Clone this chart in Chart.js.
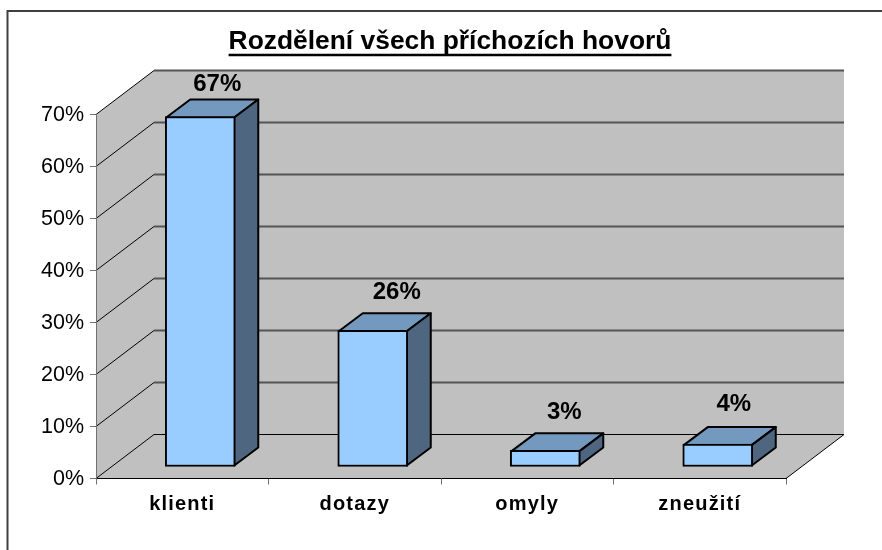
<!DOCTYPE html>
<html><head><meta charset="utf-8">
<script src="https://cdn.jsdelivr.net/npm/chart.js@4"></script>
<style>html,body{margin:0;padding:0;background:#fff}#w{width:882px;height:550px;position:relative}</style>
</head><body><div id="w"><canvas id="c" width="882" height="550"></canvas></div>
<script>
const categories = ['klienti', 'dotazy', 'omyly', 'zneužití'];
const shares = [67.4, 26.3, 3.2, 4.4];
const titleText = 'Rozdělení všech příchozích hovorů';

const FONT = '"Liberation Sans", Arial, sans-serif';
const WALL = { dx: 58, dy: -44 };
const BAR_SHIFT = { dx: 18, dy: -11.5 };
const BAR_DEPTH = { dx: 24, dy: -18 };
const LABEL_NUDGE = [[17, -32.5], [24, -38], [19, -38], [16, -40]];
const TITLE_CENTER = 450;

const threeD = {
  id: 'threeD',
  afterLayout(chart) {
    const t = chart.titleBlock;
    if (t) { const half = (t.right - t.left) / 2; t.left = TITLE_CENTER - half; t.right = TITLE_CENTER + half; }
    const xs = chart.scales.x, ys = chart.scales.y;
    if (!xs._spaced) {
      const origX = xs.drawLabels.bind(xs);
      xs.drawLabels = (area) => {
        const c = chart.ctx; c.letterSpacing = '1.2px'; origX(area); c.letterSpacing = '0px';
      };
      xs._spaced = true;
      const origY = ys.drawLabels.bind(ys);
      ys.drawLabels = (area) => {
        const c = chart.ctx; c.save(); c.translate(0, 1); origY(area); c.restore();
      };
    }
  },
  beforeDraw(chart) {
    const c = chart.ctx, { x, y } = chart.scales;
    const L = x.left, R = x.right, B = y.getPixelForValue(0), T = y.getPixelForValue(70);
    c.save();
    c.fillStyle = '#fff'; c.fillRect(0, 0, chart.width, chart.height);
    c.strokeStyle = '#404040'; c.lineWidth = 2;
    c.beginPath(); c.moveTo(7.5, chart.height); c.lineTo(7.5, 11); c.lineTo(chart.width, 11); c.stroke();
    c.fillStyle = '#C0C0C0';
    c.beginPath();
    c.moveTo(L, T); c.lineTo(L + WALL.dx, T + WALL.dy); c.lineTo(R + WALL.dx, T + WALL.dy);
    c.lineTo(R + WALL.dx, B + WALL.dy); c.lineTo(R, B); c.lineTo(L, B); c.closePath(); c.fill();
    y.ticks.forEach(tk => {
      const py = y.getPixelForValue(tk.value);
      c.strokeStyle = '#000'; c.lineWidth = 1;
      c.beginPath(); c.moveTo(L, py); c.lineTo(L + WALL.dx, py + WALL.dy); c.stroke();
      c.strokeStyle = tk.value === 0 ? '#000' : '#555'; c.lineWidth = tk.value === 0 ? 1 : 1.8;
      c.beginPath(); c.moveTo(L + WALL.dx, py + WALL.dy); c.lineTo(R + WALL.dx, py + WALL.dy); c.stroke();
    });
    c.strokeStyle = '#000'; c.lineWidth = 1;
    c.beginPath(); c.moveTo(R, B); c.lineTo(R + WALL.dx, B + WALL.dy); c.stroke();
    c.restore();
  },
  beforeDatasetsDraw(chart) {
    const c = chart.ctx;
    c.save();
    c.translate(BAR_SHIFT.dx, BAR_SHIFT.dy);
    c.lineWidth = 2; c.strokeStyle = '#000'; c.lineJoin = 'round';
    chart.getDatasetMeta(0).data.forEach(b => {
      const l = b.x - b.width / 2 + 1, r = b.x + b.width / 2 - 1, t = b.y + 1, bt = b.base - 1;
      c.fillStyle = '#7399BF';
      c.beginPath(); c.moveTo(l, t); c.lineTo(l + BAR_DEPTH.dx, t + BAR_DEPTH.dy);
      c.lineTo(r + BAR_DEPTH.dx, t + BAR_DEPTH.dy); c.lineTo(r, t); c.closePath(); c.fill(); c.stroke();
      c.fillStyle = '#4F6680';
      c.beginPath(); c.moveTo(r, t); c.lineTo(r + BAR_DEPTH.dx, t + BAR_DEPTH.dy);
      c.lineTo(r + BAR_DEPTH.dx, bt + BAR_DEPTH.dy); c.lineTo(r, bt); c.closePath(); c.fill(); c.stroke();
    });
  },
  afterDatasetsDraw(chart) {
    const c = chart.ctx;
    c.restore();
    c.save();
    c.font = 'bold 24px ' + FONT; c.fillStyle = '#000';
    c.textAlign = 'center'; c.textBaseline = 'middle';
    chart.getDatasetMeta(0).data.forEach((b, i) => {
      c.fillText(Math.round(shares[i]) + '%', b.x + BAR_SHIFT.dx + LABEL_NUDGE[i][0], b.y + BAR_SHIFT.dy + LABEL_NUDGE[i][1]);
    });
    c.font = 'bold 26.4px ' + FONT;
    const w = c.measureText(titleText).width;
    c.strokeStyle = '#000'; c.lineWidth = 2.5;
    c.beginPath(); c.moveTo(TITLE_CENTER - w / 2, 55); c.lineTo(TITLE_CENTER + w / 2, 55); c.stroke();
    c.restore();
  }
};

new Chart(document.getElementById('c'), {
  type: 'bar',
  data: {
    labels: categories,
    datasets: [{
      data: shares, backgroundColor: '#99CCFF', borderColor: '#000', borderWidth: 2,
      borderSkipped: false, barThickness: 70, clip: false
    }]
  },
  plugins: [threeD],
  options: {
    responsive: false, animation: false, devicePixelRatio: 1,
    layout: { padding: { left: 0, right: 96, top: 0, bottom: 0 } },
    plugins: {
      legend: { display: false }, tooltip: { enabled: false },
      title: {
        display: true, text: titleText, color: '#000',
        font: { family: FONT, size: 26.4, weight: 'bold', lineHeight: 1.2 },
        padding: { top: 26, bottom: 56.82 }
      }
    },
    scales: {
      x: {
        afterFit(s) { s.height = 71.5; },
        grid: { drawOnChartArea: false, color: '#707070', tickLength: 6, lineWidth: 1, offset: true },
        border: { color: '#000', width: 1 },
        ticks: { color: '#000', padding: 8, maxRotation: 0, font: { family: FONT, size: 20, weight: 'bold' } }
      },
      y: {
        min: 0, max: 70,
        afterFit(s) { s.width = 96; },
        grid: { drawOnChartArea: false, color: '#707070', tickLength: 6, lineWidth: 1 },
        border: { color: '#707070', width: 1 },
        ticks: { stepSize: 10, color: '#000', padding: 6, callback: v => v + '%', font: { family: FONT, size: 21.5 } }
      }
    }
  }
});
</script></body></html>
